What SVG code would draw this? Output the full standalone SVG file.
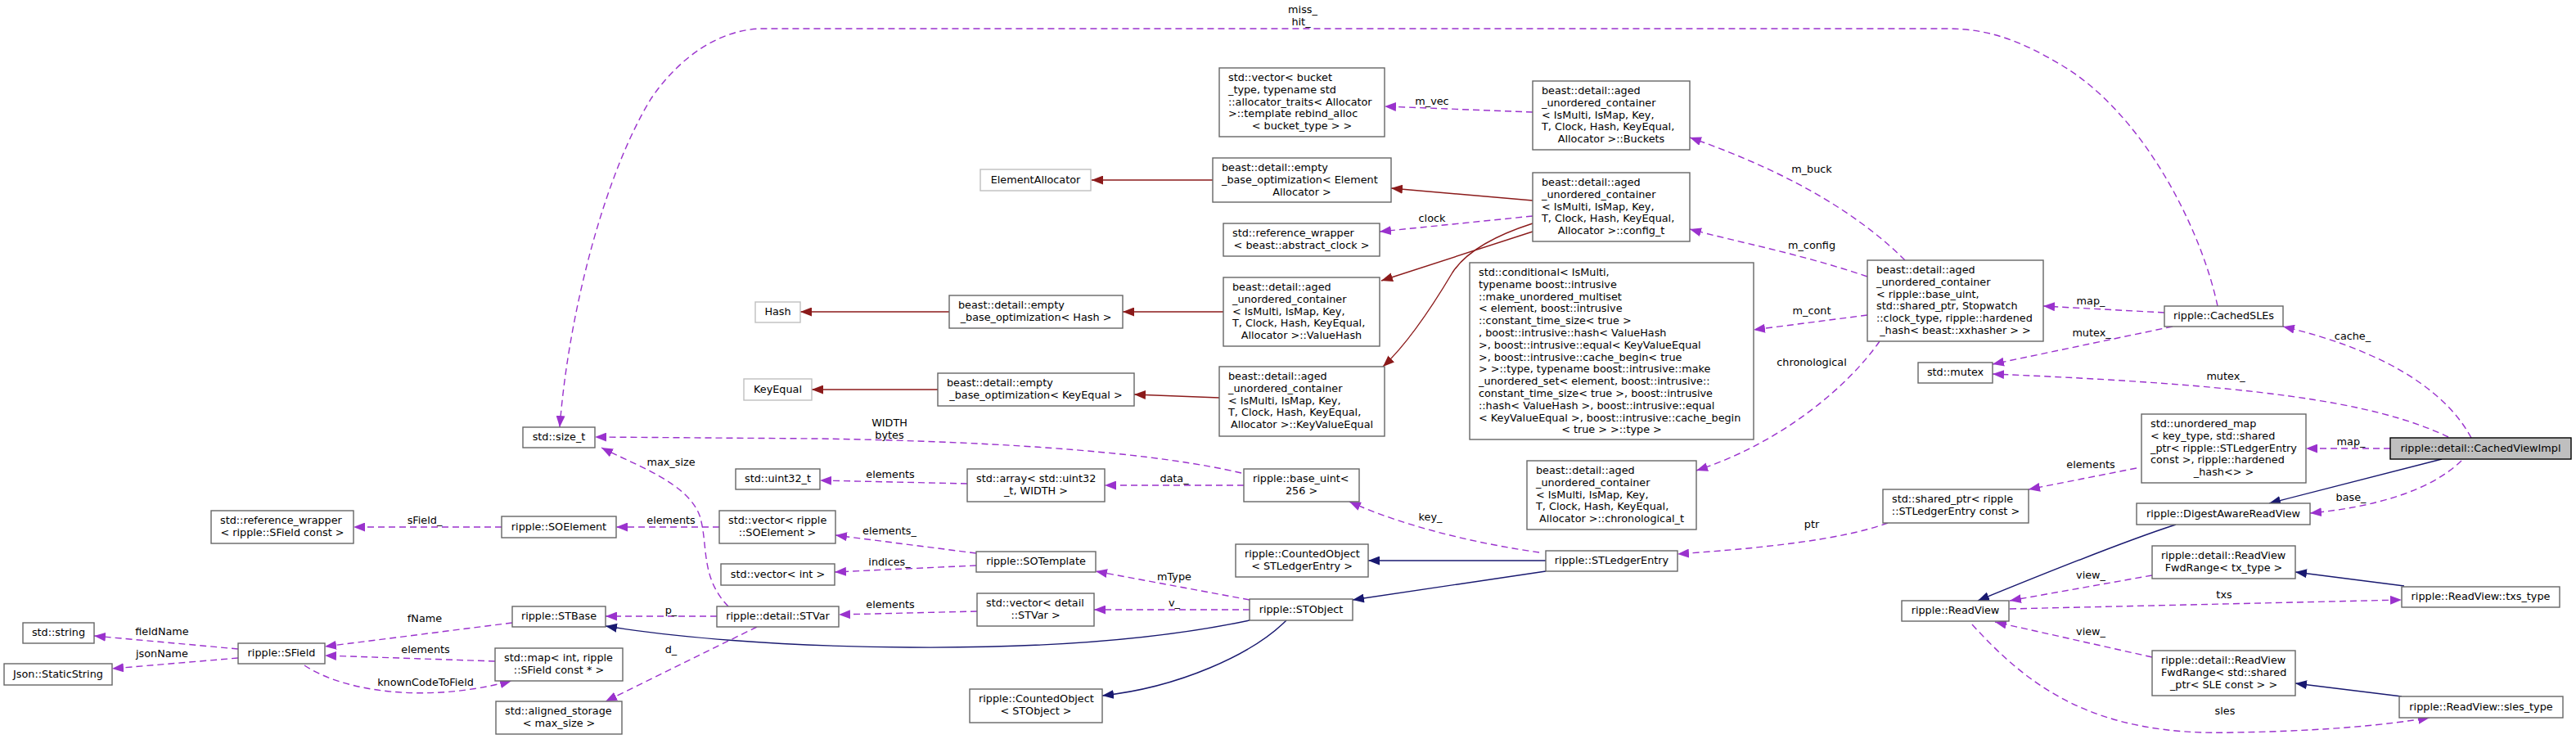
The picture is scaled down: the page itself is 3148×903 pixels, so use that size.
<svg xmlns="http://www.w3.org/2000/svg" width="3148" height="903" viewBox="0 0 3148 903" xml:space="preserve">
<style>
rect{fill:#fff;stroke:#666;stroke-width:1.4}
.g rect{stroke:#bfbfbf}
.root rect{fill:#bfbfbf;stroke:#000}
text{font-family:"DejaVu Sans","Liberation Sans",sans-serif;font-size:12.8px;fill:#000}
.m{text-anchor:middle}
#edges path{fill:none;stroke-width:1.4}
.u{stroke:#9a32cd;stroke-dasharray:8,5;marker-end:url(#ap)}
.r{stroke:#8b1a1a;marker-end:url(#ar)}
.b{stroke:#191970;marker-end:url(#ab)}
</style>
<defs>
<marker id="ap" markerUnits="userSpaceOnUse" markerWidth="14" markerHeight="11" viewBox="0 0 14 11" refX="14" refY="5.5" orient="auto"><path d="M0,0L14,5.5L0,11z" fill="#9a32cd"/></marker>
<marker id="ar" markerUnits="userSpaceOnUse" markerWidth="14" markerHeight="11" viewBox="0 0 14 11" refX="14" refY="5.5" orient="auto"><path d="M0,0L14,5.5L0,11z" fill="#8b1a1a"/></marker>
<marker id="ab" markerUnits="userSpaceOnUse" markerWidth="14" markerHeight="11" viewBox="0 0 14 11" refX="14" refY="5.5" orient="auto"><path d="M0,0L14,5.5L0,11z" fill="#191970"/></marker>
</defs>
<rect x="0" y="0" width="3148" height="903" style="fill:#fff;stroke:none"/>
<g id="edges">
<path class="u" d="M2710,374C2690,280 2620,140 2520,80C2470,50 2430,35 2380,35L933,35C880,35 830,70 796,120C740,210 695,380 684,522"/>
<path class="u" d="M1873,137L1692,130"/>
<path class="u" d="M2328,318C2280,270 2200,215 2065,168"/>
<path class="u" d="M2282,338C2200,310 2120,295 2065,280"/>
<path class="u" d="M2282,385L2143,403"/>
<path class="u" d="M2297,417C2260,470 2180,540 2073,575"/>
<path class="u" d="M1873,264L1686,283"/>
<path class="u" d="M2645,382L2497,374"/>
<path class="u" d="M2655,399L2435,445"/>
<path class="u" d="M3020,535C2985,470 2900,425 2790,399"/>
<path class="u" d="M2992,534C2900,490 2750,470 2435,457"/>
<path class="u" d="M2921,548L2818,548"/>
<path class="u" d="M3008,563C2970,600 2900,620 2823,627"/>
<path class="u" d="M2611,572L2479,598"/>
<path class="u" d="M2307,639C2250,660 2150,670 2050,677"/>
<path class="u" d="M1881,675C1810,665 1720,645 1649,613"/>
<path class="u" d="M1517,578C1420,555 1250,540 1000,536L727,534"/>
<path class="u" d="M1520,593L1350,593"/>
<path class="u" d="M1182,591L1002,587"/>
<path class="u" d="M1527,733L1339,698"/>
<path class="u" d="M1527,745L1337,745"/>
<path class="u" d="M1193,676L1021,654"/>
<path class="u" d="M1193,691L1020,699"/>
<path class="u" d="M879,644L753,644"/>
<path class="u" d="M613,644L432,644"/>
<path class="u" d="M1194,747L1025,751"/>
<path class="u" d="M876,753L740,753"/>
<path class="u" d="M925,766L740,857"/>
<path class="u" d="M890,741C855,705 866,665 855,630C840,590 780,570 735,547"/>
<path class="u" d="M626,761L397,790"/>
<path class="u" d="M291,793L115,777"/>
<path class="u" d="M291,804L137,817"/>
<path class="u" d="M605,808L397,801"/>
<path class="u" d="M372,813C420,845 520,860 625,832"/>
<path class="u" d="M2630,703L2456,734"/>
<path class="u" d="M2456,744L2935,733"/>
<path class="u" d="M2630,803L2438,760"/>
<path class="u" d="M2410,763C2480,840 2560,900 2730,895C2850,893 2920,885 2969,877"/>
<path class="r" d="M1482,220L1334,220"/>
<path class="r" d="M1873,245L1700,230"/>
<path class="r" d="M1873,283L1688,343"/>
<path class="r" d="M1873,273C1820,290 1790,310 1775,333C1750,375 1720,420 1690,448"/>
<path class="r" d="M1495,381L1372,381"/>
<path class="r" d="M1160,381L978,381"/>
<path class="r" d="M1490,486L1386,482"/>
<path class="r" d="M1146,476L992,476"/>
<path class="b" d="M2984,561L2773,615"/>
<path class="b" d="M2659,641C2600,660 2500,700 2417,734"/>
<path class="b" d="M1889,685L1672,685"/>
<path class="b" d="M1889,698L1653,733"/>
<path class="b" d="M1527,758C1400,785 1250,792 1112,791C950,790 820,778 740,765"/>
<path class="b" d="M1572,758C1530,800 1440,840 1347,850"/>
<path class="b" d="M2938,716L2805,699"/>
<path class="b" d="M2935,851L2805,835"/>
<g class="labels">
<text class="m" x="1592" y="16">miss_</text><text class="m" x="1590" y="31">hit_</text>
<text class="m" x="1750" y="128">m_vec</text>
<text class="m" x="2214" y="211">m_buck</text>
<text class="m" x="1750" y="271">clock</text>
<text class="m" x="2214" y="304">m_config</text>
<text class="m" x="2214" y="384">m_cont</text>
<text class="m" x="2214" y="447">chronological</text>
<text class="m" x="2555" y="372">map_</text>
<text class="m" x="2556" y="411">mutex_</text>
<text class="m" x="2875" y="415">cache_</text>
<text class="m" x="2720" y="464">mutex_</text>
<text class="m" x="2873" y="544">map_</text>
<text class="m" x="2873" y="612">base_</text>
<text class="m" x="2555" y="572">elements</text>
<text class="m" x="2214" y="645">ptr</text>
<text class="m" x="1748" y="636">key_</text>
<text class="m" x="1087" y="521">WIDTH</text><text class="m" x="1087" y="536">bytes</text>
<text class="m" x="820" y="569">max_size</text>
<text class="m" x="1435" y="589">data_</text>
<text class="m" x="1088" y="584">elements</text>
<text class="m" x="820" y="640">elements</text>
<text class="m" x="519" y="640">sField_</text>
<text class="m" x="1087" y="653">elements_</text>
<text class="m" x="1087" y="691">indices_</text>
<text class="m" x="1435" y="709">mType</text>
<text class="m" x="1435" y="741">v_</text>
<text class="m" x="1088" y="743">elements</text>
<text class="m" x="820" y="750">p_</text>
<text class="m" x="519" y="760">fName</text>
<text class="m" x="198" y="776">fieldName</text>
<text class="m" x="520" y="798">elements</text>
<text class="m" x="820" y="798">d_</text>
<text class="m" x="198" y="803">jsonName</text>
<text class="m" x="520" y="838">knownCodeToField</text>
<text class="m" x="2555" y="707">view_</text>
<text class="m" x="2718" y="731">txs</text>
<text class="m" x="2555" y="776">view_</text>
<text class="m" x="2719" y="873">sles</text>
</g>
</g>
<g id="n1" class="root"><rect x="2921" y="535" width="221" height="26"/><text class="m" x="3031.5" y="552">ripple::detail::CachedViewImpl</text></g>
<g id="n2"><rect x="2645" y="374" width="145" height="25"/><text class="m" x="2717.5" y="390">ripple::CachedSLEs</text></g>
<g id="n3"><rect x="2282" y="318" width="215" height="99"/><text x="2293" y="334">beast::detail::aged</text><text x="2293" y="348.8">_unordered_container</text><text x="2293" y="363.6">&lt; ripple::base_uint,</text><text x="2293" y="378.4"> std::shared_ptr, Stopwatch</text><text x="2293" y="393.2">::clock_type, ripple::hardened</text><text class="m" x="2389.5" y="408">_hash&lt; beast::xxhasher &gt; &gt;</text></g>
<g id="n4"><rect x="1873" y="99" width="192" height="84"/><text x="1884" y="115">beast::detail::aged</text><text x="1884" y="129.8">_unordered_container</text><text x="1884" y="144.6">&lt; IsMulti, IsMap, Key,</text><text x="1884" y="159.4"> T, Clock, Hash, KeyEqual,</text><text class="m" x="1969" y="174.2">Allocator &gt;::Buckets</text></g>
<g id="n5"><rect x="1490" y="83" width="202" height="84"/><text x="1501" y="99">std::vector&lt; bucket</text><text x="1501" y="113.8">_type, typename std</text><text x="1501" y="128.6">::allocator_traits&lt; Allocator</text><text x="1501" y="143.4"> &gt;::template rebind_alloc</text><text class="m" x="1591" y="158.2">&lt; bucket_type &gt; &gt;</text></g>
<g id="n6"><rect x="1873" y="211" width="192" height="84"/><text x="1884" y="227">beast::detail::aged</text><text x="1884" y="241.8">_unordered_container</text><text x="1884" y="256.6">&lt; IsMulti, IsMap, Key,</text><text x="1884" y="271.4"> T, Clock, Hash, KeyEqual,</text><text class="m" x="1969" y="286.2">Allocator &gt;::config_t</text></g>
<g id="n7"><rect x="1482" y="193" width="218" height="54"/><text x="1493" y="209">beast::detail::empty</text><text x="1493" y="223.8">_base_optimization&lt; Element</text><text class="m" x="1591" y="238.6">Allocator &gt;</text></g>
<g id="n8" class="g"><rect x="1198" y="207" width="135" height="26"/><text class="m" x="1265.5" y="224">ElementAllocator</text></g>
<g id="n9"><rect x="1495" y="273" width="191" height="40"/><text x="1506" y="289">std::reference_wrapper</text><text class="m" x="1590.5" y="303.8">&lt; beast::abstract_clock &gt;</text></g>
<g id="n10"><rect x="1495" y="339" width="191" height="84"/><text x="1506" y="355">beast::detail::aged</text><text x="1506" y="369.8">_unordered_container</text><text x="1506" y="384.6">&lt; IsMulti, IsMap, Key,</text><text x="1506" y="399.4"> T, Clock, Hash, KeyEqual,</text><text class="m" x="1590.5" y="414.2">Allocator &gt;::ValueHash</text></g>
<g id="n11"><rect x="1160" y="361" width="212" height="40"/><text x="1171" y="377">beast::detail::empty</text><text class="m" x="1266" y="391.8">_base_optimization&lt; Hash &gt;</text></g>
<g id="n12" class="g"><rect x="923" y="369" width="55" height="25"/><text class="m" x="950.5" y="385">Hash</text></g>
<g id="n13"><rect x="1490" y="448" width="202" height="85"/><text x="1501" y="464">beast::detail::aged</text><text x="1501" y="478.8">_unordered_container</text><text x="1501" y="493.6">&lt; IsMulti, IsMap, Key,</text><text x="1501" y="508.4"> T, Clock, Hash, KeyEqual,</text><text class="m" x="1591" y="523.2">Allocator &gt;::KeyValueEqual</text></g>
<g id="n14"><rect x="1146" y="456" width="240" height="40"/><text x="1157" y="472">beast::detail::empty</text><text class="m" x="1266" y="486.8">_base_optimization&lt; KeyEqual &gt;</text></g>
<g id="n15" class="g"><rect x="909" y="463" width="83" height="26"/><text class="m" x="950.5" y="480">KeyEqual</text></g>
<g id="n16"><rect x="1796" y="321" width="347" height="216"/><text x="1807" y="337">std::conditional&lt; IsMulti,</text><text x="1807" y="351.8"> typename boost::intrusive</text><text x="1807" y="366.6">::make_unordered_multiset</text><text x="1807" y="381.4">&lt; element, boost::intrusive</text><text x="1807" y="396.2">::constant_time_size&lt; true &gt;</text><text x="1807" y="411">, boost::intrusive::hash&lt; ValueHash</text><text x="1807" y="425.8"> &gt;, boost::intrusive::equal&lt; KeyValueEqual</text><text x="1807" y="440.6"> &gt;, boost::intrusive::cache_begin&lt; true</text><text x="1807" y="455.4"> &gt; &gt;::type, typename boost::intrusive::make</text><text x="1807" y="470.2">_unordered_set&lt; element, boost::intrusive::</text><text x="1807" y="485">constant_time_size&lt; true &gt;, boost::intrusive</text><text x="1807" y="499.8">::hash&lt; ValueHash &gt;, boost::intrusive::equal</text><text x="1807" y="514.6">&lt; KeyValueEqual &gt;, boost::intrusive::cache_begin</text><text class="m" x="1969.5" y="529.4">&lt; true &gt; &gt;::type &gt;</text></g>
<g id="n17"><rect x="1866" y="563" width="207" height="84"/><text x="1877" y="579">beast::detail::aged</text><text x="1877" y="593.8">_unordered_container</text><text x="1877" y="608.6">&lt; IsMulti, IsMap, Key,</text><text x="1877" y="623.4"> T, Clock, Hash, KeyEqual,</text><text class="m" x="1969.5" y="638.2">Allocator &gt;::chronological_t</text></g>
<g id="n18"><rect x="2344" y="443" width="91" height="25"/><text class="m" x="2389.5" y="459">std::mutex</text></g>
<g id="n19"><rect x="639" y="522" width="88" height="25"/><text class="m" x="683" y="538">std::size_t</text></g>
<g id="n20"><rect x="2617" y="506" width="201" height="84"/><text x="2628" y="522">std::unordered_map</text><text x="2628" y="536.8">&lt; key_type, std::shared</text><text x="2628" y="551.6">_ptr&lt; ripple::STLedgerEntry</text><text x="2628" y="566.4"> const &gt;, ripple::hardened</text><text class="m" x="2717.5" y="581.2">_hash&lt;&gt; &gt;</text></g>
<g id="n21"><rect x="2301" y="598" width="178" height="41"/><text x="2312" y="614">std::shared_ptr&lt; ripple</text><text class="m" x="2390" y="628.8">::STLedgerEntry const &gt;</text></g>
<g id="n22"><rect x="1889" y="673" width="161" height="25"/><text class="m" x="1969.5" y="689">ripple::STLedgerEntry</text></g>
<g id="n23"><rect x="1520" y="573" width="141" height="40"/><text x="1531" y="589">ripple::base_uint&lt;</text><text class="m" x="1590.5" y="603.8">256 &gt;</text></g>
<g id="n24"><rect x="1182" y="573" width="168" height="40"/><text x="1193" y="589">std::array&lt; std::uint32</text><text class="m" x="1266" y="603.8">_t, WIDTH &gt;</text></g>
<g id="n25"><rect x="899" y="573" width="103" height="25"/><text class="m" x="950.5" y="589">std::uint32_t</text></g>
<g id="n26"><rect x="1510" y="665" width="162" height="40"/><text x="1521" y="681">ripple::CountedObject</text><text class="m" x="1591" y="695.8">&lt; STLedgerEntry &gt;</text></g>
<g id="n27"><rect x="1527" y="732" width="126" height="26"/><text class="m" x="1590" y="749">ripple::STObject</text></g>
<g id="n28"><rect x="1193" y="674" width="146" height="25"/><text class="m" x="1266" y="690">ripple::SOTemplate</text></g>
<g id="n29"><rect x="879" y="624" width="142" height="40"/><text x="890" y="640">std::vector&lt; ripple</text><text class="m" x="950" y="654.8">::SOElement &gt;</text></g>
<g id="n30"><rect x="881" y="689" width="139" height="26"/><text class="m" x="950.5" y="706">std::vector&lt; int &gt;</text></g>
<g id="n31"><rect x="613" y="631" width="140" height="26"/><text class="m" x="683" y="648">ripple::SOElement</text></g>
<g id="n32"><rect x="258" y="624" width="174" height="40"/><text x="269" y="640">std::reference_wrapper</text><text class="m" x="345" y="654.8">&lt; ripple::SField const &gt;</text></g>
<g id="n33"><rect x="1194" y="725" width="143" height="40"/><text x="1205" y="741">std::vector&lt; detail</text><text class="m" x="1265.5" y="755.8">::STVar &gt;</text></g>
<g id="n34"><rect x="876" y="741" width="149" height="25"/><text class="m" x="950.5" y="757">ripple::detail::STVar</text></g>
<g id="n35"><rect x="626" y="741" width="114" height="25"/><text class="m" x="683" y="757">ripple::STBase</text></g>
<g id="n36"><rect x="291" y="786" width="106" height="25"/><text class="m" x="344" y="802">ripple::SField</text></g>
<g id="n37"><rect x="28" y="761" width="87" height="25"/><text class="m" x="71.5" y="777">std::string</text></g>
<g id="n38"><rect x="5" y="811" width="132" height="26"/><text class="m" x="71" y="828">Json::StaticString</text></g>
<g id="n39"><rect x="605" y="792" width="156" height="40"/><text x="616" y="808">std::map&lt; int, ripple</text><text class="m" x="683" y="822.8">::SField const * &gt;</text></g>
<g id="n40"><rect x="606" y="857" width="154" height="40"/><text x="617" y="873">std::aligned_storage</text><text class="m" x="683" y="887.8">&lt; max_size &gt;</text></g>
<g id="n41"><rect x="1185" y="842" width="162" height="41"/><text x="1196" y="858">ripple::CountedObject</text><text class="m" x="1266" y="872.8">&lt; STObject &gt;</text></g>
<g id="n42"><rect x="2611" y="615" width="212" height="26"/><text class="m" x="2717" y="632">ripple::DigestAwareReadView</text></g>
<g id="n43"><rect x="2324" y="734" width="131" height="25"/><text class="m" x="2389.5" y="750">ripple::ReadView</text></g>
<g id="n44"><rect x="2630" y="667" width="175" height="40"/><text x="2641" y="683">ripple::detail::ReadView</text><text class="m" x="2717.5" y="697.8">FwdRange&lt; tx_type &gt;</text></g>
<g id="n45"><rect x="2935" y="717" width="193" height="25"/><text class="m" x="3031.5" y="733">ripple::ReadView::txs_type</text></g>
<g id="n46"><rect x="2630" y="795" width="175" height="55"/><text x="2641" y="811">ripple::detail::ReadView</text><text x="2641" y="825.8">FwdRange&lt; std::shared</text><text class="m" x="2717.5" y="840.6">_ptr&lt; SLE const &gt; &gt;</text></g>
<g id="n47"><rect x="2932" y="851" width="200" height="26"/><text class="m" x="3032" y="868">ripple::ReadView::sles_type</text></g>
</svg>
